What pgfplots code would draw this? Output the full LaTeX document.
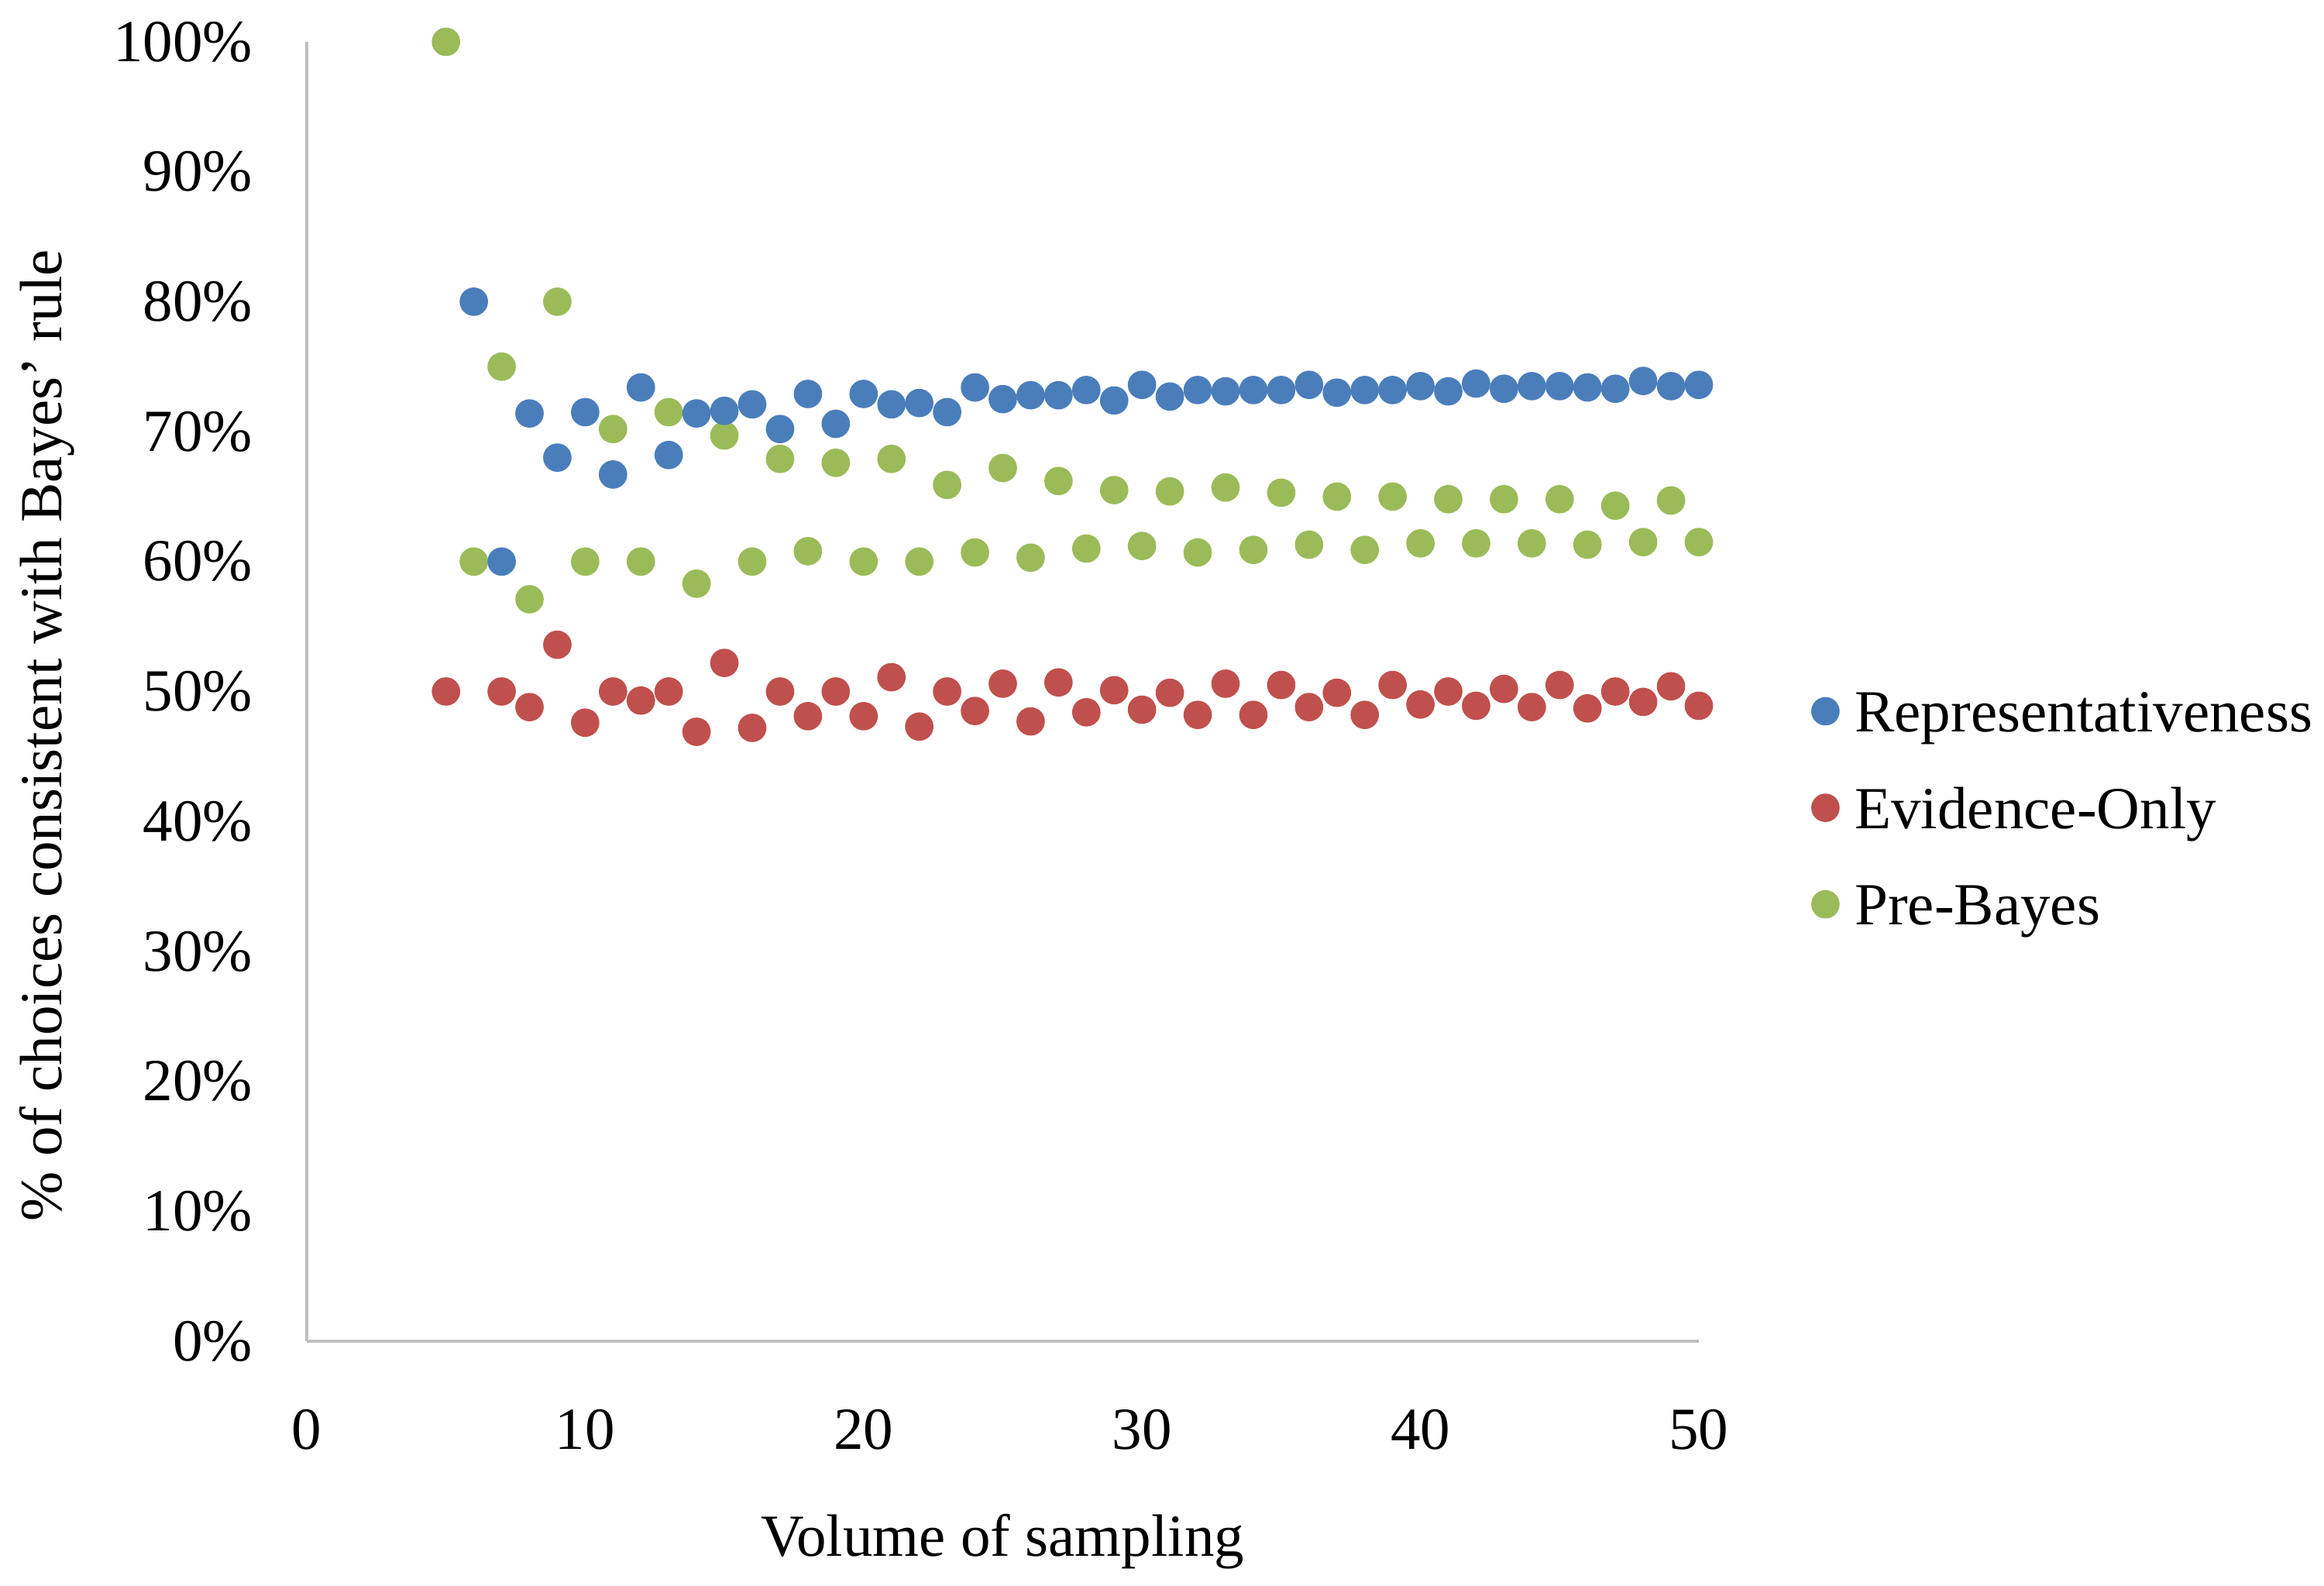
\documentclass[border=0pt]{standalone}
\usepackage{fontspec}
\setmainfont{Liberation Serif}
\usepackage{pgfplots}
\pgfplotsset{compat=1.18}
\definecolor{repblue}{HTML}{4A7EBB}
\definecolor{evired}{HTML}{C0504D}
\definecolor{pregreen}{HTML}{9BBB59}
\definecolor{axgray}{HTML}{BFBFBF}
\begin{document}
\begin{tikzpicture}[font=\fontsize{18.5bp}{22bp}\selectfont]
\useasboundingbox (-95.04bp,-75.6bp) rectangle (624.96bp,415.44bp);
\begin{axis}[
  width=431.28bp, height=402.48bp, scale only axis,
  xmin=0, xmax=50, ymin=0, ymax=100,
  axis lines=left,
  axis line style={-, draw=axgray, line width=1bp},
  xtick={0,10,...,50}, ytick={0,10,...,100},
  major tick length=0pt,
  /pgf/number format/assume math mode=true,
  yticklabel={\pgfmathprintnumber{\tick}\%},
  xticklabel style={anchor=base, inner sep=0pt},
  xticklabel shift=33.4bp,
  yticklabel style={anchor=east, inner sep=0pt},
  yticklabel shift=16.6bp,
  xlabel={Volume of sampling},
  xlabel style={at={(axis description cs:0.5,-0.1652)}, anchor=base, inner sep=0pt},
  ylabel={\% of choices consistent with Bayes’ rule},
  ylabel style={at={(axis description cs:-0.17585,0.4663)}, anchor=base, inner sep=0pt},
  clip=false,
  reverse legend,
  legend cell align=left,
  legend style={at={(axis description cs:1.0812,0.4105)}, anchor=west, draw=none, fill=none,
    inner sep=0pt, outer sep=0pt, row sep=17.1bp,
    nodes={inner sep=0pt, text height=12.8bp, text depth=0pt},
    /tikz/every odd column/.append style={column sep=4.9bp}},
  legend image code/.code={\draw[#1, mark size=4.2bp] plot coordinates {(0bp,0bp)};},
]
\addplot[only marks, mark=*, mark size=4.2bp, color=pregreen] coordinates {
(5,100) (6,60) (7,75) (8,57.1) (9,80) (10,60) (11,70.2) (12,60) (13,71.5) (14,58.3)
(15,69.7) (16,60) (17,67.9) (18,60.8) (19,67.6) (20,60) (21,67.9) (22,60) (23,65.9) (24,60.7)
(25,67.2) (26,60.3) (27,66.2) (28,61.0) (29,65.5) (30,61.2) (31,65.4) (32,60.7) (33,65.7) (34,60.9)
(35,65.3) (36,61.3) (37,65.0) (38,60.9) (39,65.0) (40,61.4) (41,64.8) (42,61.4) (43,64.8) (44,61.4)
(45,64.8) (46,61.3) (47,64.3) (48,61.5) (49,64.7) (50,61.5)
};
\addlegendentry{Pre-Bayes}
\addplot[only marks, mark=*, mark size=4.2bp, color=evired] coordinates {
(5,50) (7,50) (8,48.8) (9,53.6) (10,47.6) (11,50) (12,49.3) (13,50) (14,46.9) (15,52.2)
(16,47.2) (17,50) (18,48.1) (19,50) (20,48.1) (21,51.1) (22,47.3) (23,50) (24,48.5) (25,50.6)
(26,47.7) (27,50.7) (28,48.4) (29,50.1) (30,48.6) (31,49.9) (32,48.2) (33,50.6) (34,48.2) (35,50.5)
(36,48.8) (37,49.9) (38,48.2) (39,50.5) (40,49.0) (41,50.0) (42,48.9) (43,50.2) (44,48.8) (45,50.5)
(46,48.7) (47,50.0) (48,49.2) (49,50.4) (50,48.9)
};
\addlegendentry{Evidence-Only}
\addplot[only marks, mark=*, mark size=4.2bp, color=repblue] coordinates {
(6,80) (7,60) (8,71.4) (9,68.0) (10,71.5) (11,66.7) (12,73.4) (13,68.2) (14,71.4) (15,71.6)
(16,72.1) (17,70.2) (18,72.9) (19,70.6) (20,72.9) (21,72.1) (22,72.2) (23,71.5) (24,73.4) (25,72.5)
(26,72.8) (27,72.8) (28,73.2) (29,72.4) (30,73.6) (31,72.7) (32,73.2) (33,73.1) (34,73.2) (35,73.2)
(36,73.6) (37,73.0) (38,73.2) (39,73.2) (40,73.5) (41,73.1) (42,73.7) (43,73.3) (44,73.5) (45,73.5)
(46,73.4) (47,73.3) (48,73.9) (49,73.5) (50,73.6)
};
\addlegendentry{Representativeness}
\end{axis}
\end{tikzpicture}
\end{document}
